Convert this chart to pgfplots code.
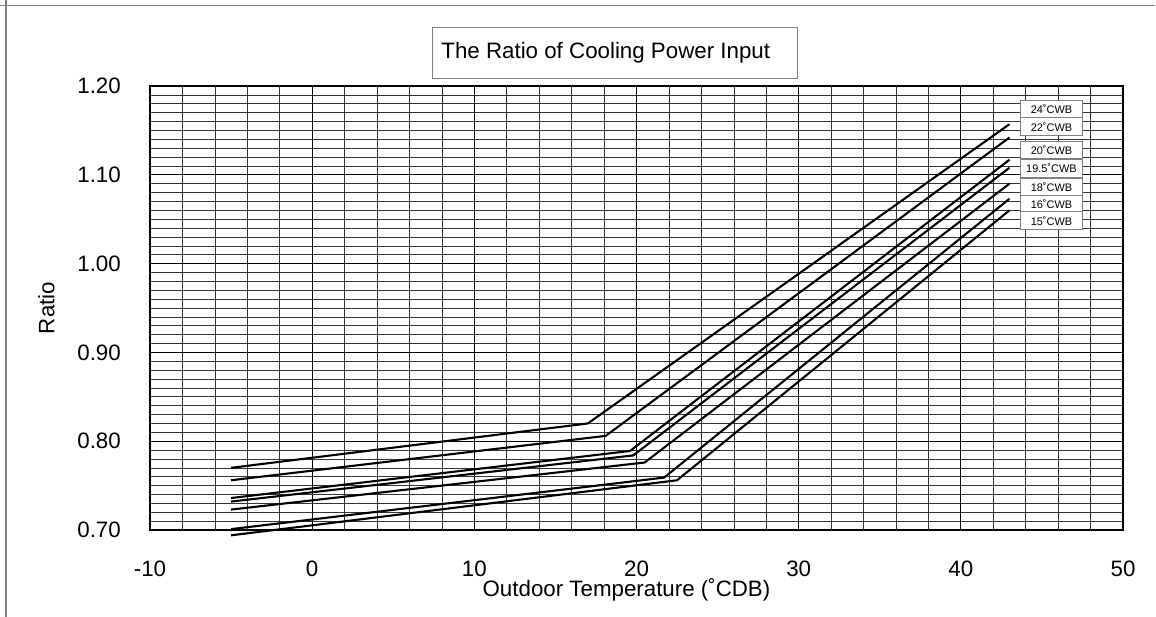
\documentclass[border=0pt]{standalone}
\usepackage{fontspec}
\setmainfont{Liberation Sans}
\usepackage{pgfplots}
\pgfplotsset{compat=1.18}
\definecolor{framegray}{HTML}{7F7F7F}
\newcommand{\bigfont}{\fontsize{22.4}{26}\selectfont}
\newcommand{\smallfont}{\fontsize{11}{13}\selectfont}
\begin{document}
\begin{tikzpicture}
\useasboundingbox (0bp,0bp) rectangle (1156bp,617bp);
\draw[framegray, line width=1.3bp] (0bp,611.3bp) -- (1155bp,611.3bp);
\draw[framegray, line width=1.3bp] (6bp,0bp) -- (6bp,617bp);
\draw[framegray, line width=1.2bp, fill=white] (432.3bp,538.7bp) rectangle (797.7bp,589.7bp);
\node[anchor=base west, inner sep=0pt, font=\bigfont] at (441.2bp,558.7bp) {The Ratio of Cooling Power Input};
\begin{axis}[
  at={(150bp,87bp)}, anchor=south west,
  scale only axis, width=973bp, height=444bp,
  xmin=-10, xmax=50, ymin=0.7, ymax=1.2,
  xtick={-10,0,10,20,30,40,50},
  xticklabels={-10,0,10,20,30,40,50},
  ytick={0.7,0.8,0.9,1.0,1.1,1.2},
  yticklabels={0.70,0.80,0.90,1.00,1.10,1.20},
  extra x ticks={-8,-6,-4,-2,2,4,6,8,12,14,16,18,22,24,26,28,32,34,36,38,42,44,46,48},
  extra x tick labels={},
  extra x tick style={xmajorgrids=true, major grid style={black!80, line width=0.6bp}, tick style={draw=none}},
  minor ytick={0.71,0.72,0.73,0.74,0.75,0.76,0.77,0.78,0.79,
               0.81,0.82,0.83,0.84,0.85,0.86,0.87,0.88,0.89,
               0.91,0.92,0.93,0.94,0.95,0.96,0.97,0.98,0.99,
               1.01,1.02,1.03,1.04,1.05,1.06,1.07,1.08,1.09,
               1.11,1.12,1.13,1.14,1.15,1.16,1.17,1.18,1.19},
  xmajorgrids=true, ymajorgrids=true, yminorgrids=true, xminorgrids=false,
  major grid style={black, line width=1.1bp},
  minor grid style={black!80, line width=0.6bp},
  major tick length=0pt, minor tick length=0pt,
  tick style={draw=none},
  axis line style={line width=2.2bp},
  tick label style={font=\bigfont, inner sep=0pt},
  xticklabel style={anchor=base, yshift=-46bp},
  yticklabel style={anchor=east, xshift=-29bp},
  xlabel={Outdoor Temperature (˚CDB)},
  xlabel style={at={(axis description cs:0.4897,-0.150)}, anchor=base, inner sep=0pt, font=\bigfont},
  ylabel={Ratio},
  ylabel style={at={(axis description cs:-0.1064,0.5)}, anchor=center, rotate=0, font=\bigfont},
  clip=false,
]
\addplot[black, line width=2.1bp, mark=none] coordinates {(-5,0.770) (17,0.820) (43,1.157)};
\addplot[black, line width=2.1bp, mark=none] coordinates {(-5,0.756) (18.1,0.806) (43,1.142)};
\addplot[black, line width=2.1bp, mark=none] coordinates {(-5,0.736) (19.6,0.789) (43,1.117)};
\addplot[black, line width=2.1bp, mark=none] coordinates {(-5,0.732) (19.8,0.784) (43,1.108)};
\addplot[black, line width=2.1bp, mark=none] coordinates {(-5,0.723) (20.5,0.776) (43,1.090)};
\addplot[black, line width=2.1bp, mark=none] coordinates {(-5,0.701) (21.7,0.759) (43,1.073)};
\addplot[black, line width=2.1bp, mark=none] coordinates {(-5,0.694) (22.5,0.756) (43,1.060)};
\begin{scope}[every node/.style={draw=framegray, line width=1bp, fill=white, minimum width=61.6bp, minimum height=17.6bp, inner sep=0pt, font=\smallfont}]
\node at (axis cs:45.59,1.1739) {24˚CWB};
\node at (axis cs:45.59,1.1542) {22˚CWB};
\node at (axis cs:45.59,1.1279) {20˚CWB};
\node at (axis cs:45.59,1.1074) {19.5˚CWB};
\node at (axis cs:45.59,1.0863) {18˚CWB};
\node at (axis cs:45.59,1.0671) {16˚CWB};
\node at (axis cs:45.59,1.0483) {15˚CWB};
\end{scope}
\end{axis}
\end{tikzpicture}
\end{document}
